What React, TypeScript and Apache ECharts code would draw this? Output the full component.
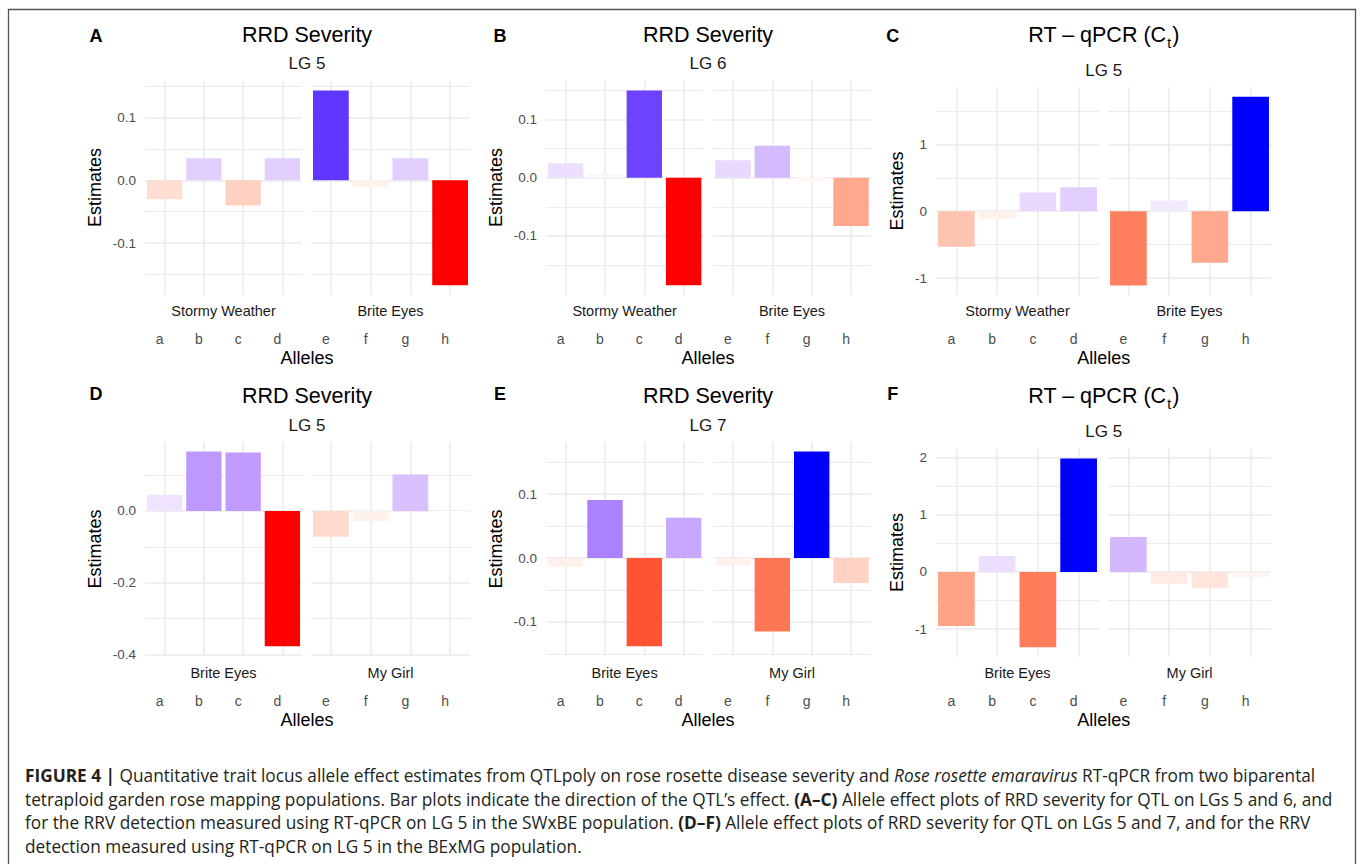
import React, { useEffect, useRef } from "react";
import * as echarts from "echarts";

// ---------- DATA ----------
const allelesLeft = ["a", "b", "c", "d"];
const allelesRight = ["e", "f", "g", "h"];

// A: RRD Severity, LG 5 (SWxBE)
const parentsA = ["Stormy Weather", "Brite Eyes"];
const estA1 = [-0.03, 0.035, -0.04, 0.035];
const estA2 = [0.143, -0.011, 0.035, -0.167];
const ticksA = [-0.1, 0, 0.1];

// B: RRD Severity, LG 6 (SWxBE)
const parentsB = ["Stormy Weather", "Brite Eyes"];
const estB1 = [0.025, 0.007, 0.15, -0.185];
const estB2 = [0.03, 0.055, -0.007, -0.083];
const ticksB = [-0.1, 0, 0.1];

// C: RT-qPCR (Ct), LG 5 (SWxBE)
const parentsC = ["Stormy Weather", "Brite Eyes"];
const estC1 = [-0.53, -0.12, 0.28, 0.36];
const estC2 = [-1.11, 0.16, -0.77, 1.71];
const ticksC = [-1, 0, 1];

// D: RRD Severity, LG 5 (BExMG)
const parentsD = ["Brite Eyes", "My Girl"];
const estD1 = [0.045, 0.166, 0.163, -0.377];
const estD2 = [-0.072, -0.028, 0.102, -0.003];
const ticksD = [-0.4, -0.2, 0];

// E: RRD Severity, LG 7 (BExMG)
const parentsE = ["Brite Eyes", "My Girl"];
const estE1 = [-0.013, 0.091, -0.138, 0.063];
const estE2 = [-0.0115, -0.115, 0.167, -0.039];
const ticksE = [-0.1, 0, 0.1];

// F: RT-qPCR (Ct), LG 5 (BExMG)
const parentsF = ["Brite Eyes", "My Girl"];
const estF1 = [-0.947, 0.28, -1.32, 1.99];
const estF2 = [0.614, -0.205, -0.275, -0.1];
const ticksF = [-1, 0, 1, 2];

const panelLetters = ["A", "B", "C", "D", "E", "F"];
const panelTitles = ["RRD Severity", "RRD Severity", "qpcr", "RRD Severity", "RRD Severity", "qpcr"];
const panelLGs = ["LG 5", "LG 6", "LG 5", "LG 5", "LG 7", "LG 5"];
const panelDecimals = [1, 1, 0, 1, 1, 0];
const yAxisTitle = "Estimates";
const xAxisTitle = "Alleles";

const captionLines = [
  "{b|FIGURE 4 | }{r|Quantitative trait locus allele effect estimates from QTLpoly on rose rosette disease severity and }{i|Rose rosette emaravirus}{r| RT-qPCR from two biparental}",
  "{r|tetraploid garden rose mapping populations. Bar plots indicate the direction of the QTL\u2019s effect. }{b|(A\u2013C)}{r| Allele effect plots of RRD severity for QTL on LGs 5 and 6, and}",
  "{r|for the RRV detection measured using RT-qPCR on LG 5 in the SWxBE population. }{b|(D\u2013F)}{r| Allele effect plots of RRD severity for QTL on LGs 5 and 7, and for the RRV}",
  "{r|detection measured using RT-qPCR on LG 5 in the BExMG population.}",
];

// ---------- LAYOUT ----------
const FONT = "'Liberation Sans', Arial, Helvetica, sans-serif";
const CAP_FONT = "'Open Sans', 'Liberation Sans', Arial, sans-serif";

const cols = [
  { f1: [145, 302], f2: [311, 470], estX: 95, center: 307, letterX: 96 },
  { f1: [546, 703.3], f2: [713.3, 870.7], estX: 496, center: 708, letterX: 500 },
  { f1: [936, 1099], f2: [1108, 1271], estX: 896.7, center: 1103.7, letterX: 892.7 },
];

const panelLayout = [
  { col: 0, top: 80.7, bottom: 295, titleY: 35, lgY: 63, letterY: 36, estY: 187.5, allelesY: 358, stripY: 311, margin: 37 },
  { col: 1, top: 80.7, bottom: 295, titleY: 35, lgY: 63, letterY: 36, estY: 187.5, allelesY: 358, stripY: 311, margin: 37 },
  { col: 2, top: 87.3, bottom: 295, titleY: 36.5, lgY: 70.7, letterY: 36, estY: 191, allelesY: 358, stripY: 311, margin: 37 },
  { col: 0, top: 441.7, bottom: 656, titleY: 396, lgY: 425, letterY: 394, estY: 549, allelesY: 720, stripY: 673, margin: 38 },
  { col: 1, top: 441.7, bottom: 656, titleY: 396, lgY: 425, letterY: 394, estY: 549, allelesY: 720, stripY: 673, margin: 38 },
  { col: 2, top: 449, bottom: 656.7, titleY: 398, lgY: 431.7, letterY: 394, estY: 552.5, allelesY: 720, stripY: 673, margin: 37.5 },
];

const panelData = [
  { parents: parentsA, e1: estA1, e2: estA2, ticks: ticksA },
  { parents: parentsB, e1: estB1, e2: estB2, ticks: ticksB },
  { parents: parentsC, e1: estC1, e2: estC2, ticks: ticksC },
  { parents: parentsD, e1: estD1, e2: estD2, ticks: ticksD },
  { parents: parentsE, e1: estE1, e2: estE2, ticks: ticksE },
  { parents: parentsF, e1: estF1, e2: estF2, ticks: ticksF },
];

// ---------- COLOUR (ggplot gradient2 in CIELAB: red - white - blue) ----------
function toLin(c: number) {
  c /= 255;
  return c <= 0.04045 ? c / 12.92 : Math.pow((c + 0.055) / 1.055, 2.4);
}
function fromLin(c: number) {
  const v = c <= 0.0031308 ? 12.92 * c : 1.055 * Math.pow(c, 1 / 2.4) - 0.055;
  return Math.round(Math.max(0, Math.min(1, v)) * 255);
}
const Xn = 0.95047, Yn = 1.0, Zn = 1.08883;
const EPS = 216 / 24389, KAP = 24389 / 27;
function rgbToLab(r: number, g: number, b: number) {
  const R = toLin(r), G = toLin(g), B = toLin(b);
  const X = 0.4124564 * R + 0.3575761 * G + 0.1804375 * B;
  const Y = 0.2126729 * R + 0.7151522 * G + 0.072175 * B;
  const Z = 0.0193339 * R + 0.119192 * G + 0.9503041 * B;
  const f = (t: number) => (t > EPS ? Math.cbrt(t) : (KAP * t + 16) / 116);
  const fx = f(X / Xn), fy = f(Y / Yn), fz = f(Z / Zn);
  return [116 * fy - 16, 500 * (fx - fy), 200 * (fy - fz)];
}
function labToHex(L: number, a: number, b: number) {
  const fy = (L + 16) / 116, fx = fy + a / 500, fz = fy - b / 200;
  const inv = (t: number) => (t * t * t > EPS ? t * t * t : (116 * t - 16) / KAP);
  const X = Xn * inv(fx), Y = Yn * inv(fy), Z = Zn * inv(fz);
  const R = 3.2404542 * X - 1.5371385 * Y - 0.4985314 * Z;
  const G = -0.969266 * X + 1.8760108 * Y + 0.041556 * Z;
  const B = 0.0556434 * X - 0.2040259 * Y + 1.0572252 * Z;
  const h = (n: number) => n.toString(16).padStart(2, "0");
  return "#" + h(fromLin(R)) + h(fromLin(G)) + h(fromLin(B));
}
const LAB_W = rgbToLab(255, 255, 255);
const LAB_R = rgbToLab(255, 0, 0);
const LAB_B = rgbToLab(0, 0, 255);
function fillFor(v: number, maxAbs: number) {
  const t = Math.min(1, Math.abs(v) / maxAbs);
  const end = v < 0 ? LAB_R : LAB_B;
  return labToHex(
    LAB_W[0] + (end[0] - LAB_W[0]) * t,
    LAB_W[1] + (end[1] - LAB_W[1]) * t,
    LAB_W[2] + (end[2] - LAB_W[2]) * t
  );
}

// ---------- OPTION ----------
function buildOption() {
  const grids: any[] = [];
  const xAxes: any[] = [];
  const yAxes: any[] = [];
  const series: any[] = [];
  const graphics: any[] = [];

  panelData.forEach((pd, pi) => {
    const lay = panelLayout[pi];
    const col = cols[lay.col];
    const all = [...pd.e1, ...pd.e2];
    const lo = Math.min(0, ...all);
    const hi = Math.max(0, ...all);
    const pad = 0.05 * (hi - lo);
    const ymin = lo - pad;
    const ymax = hi + pad;
    const maxAbs = Math.max(Math.abs(lo), Math.abs(hi));
    const majors = pd.ticks;
    const half = (majors[1] - majors[0]) / 2;
    const gridVals: { v: number; major: boolean }[] = majors.map((v) => ({ v, major: true }));
    for (let k = Math.ceil((ymin - majors[0]) / half - 1e-9); k <= Math.floor((ymax - majors[0]) / half + 1e-9); k++) {
      if (k % 2 !== 0) gridVals.push({ v: +(majors[0] + k * half).toFixed(6), major: false });
    }

    [0, 1].forEach((fi) => {
      const gi = grids.length;
      const [x0, x1] = fi === 0 ? col.f1 : col.f2;
      const cats = fi === 0 ? allelesLeft : allelesRight;
      const vals = fi === 0 ? pd.e1 : pd.e2;
      grids.push({
        left: x0,
        width: x1 - x0,
        top: lay.top,
        height: lay.bottom - lay.top,
        containLabel: false,
        outerBoundsMode: "none",
      });
      xAxes.push({
        type: "category",
        gridIndex: gi,
        data: cats,
        boundaryGap: true,
        axisLine: { show: false },
        axisTick: { show: false },
        splitLine: { show: false },
        axisLabel: {
          margin: lay.margin,
          color: "#4d4d4d",
          fontSize: 14,
          fontFamily: FONT,
          padding: [0, 10, 0, 0],
        },
      });
      yAxes.push({
        type: "value",
        gridIndex: gi,
        min: ymin,
        max: ymax,
        show: false,
      });
      const lineData: any[] = gridVals.map((g) => ({
        yAxis: g.v,
        lineStyle: { color: "#ebebeb", width: g.major ? 1.6 : 1, type: "solid" },
        label: {
          show: fi === 0 && g.major,
          position: "start",
          distance: 9,
          formatter: (Math.abs(g.v) < 1e-9 ? 0 : g.v).toFixed(panelDecimals[pi]),
          color: "#4d4d4d",
          fontSize: 13.5,
          fontFamily: FONT,
        },
      }));
      cats.forEach((c) => {
        lineData.push({
          xAxis: c,
          lineStyle: { color: "#ebebeb", width: 1.6, type: "solid" },
          label: { show: false },
        });
      });
      series.push({
        type: "line",
        xAxisIndex: gi,
        yAxisIndex: gi,
        data: [],
        z: 1,
        silent: true,
        markLine: {
          silent: true,
          symbol: "none",
          z: 1,
          animation: false,
          data: lineData,
        },
      });
      series.push({
        type: "bar",
        xAxisIndex: gi,
        yAxisIndex: gi,
        barCategoryGap: "10%",
        z: 3,
        silent: true,
        data: vals.map((v) => ({ value: v, itemStyle: { color: fillFor(v, maxAbs) } })),
      });
      graphics.push({
        type: "text",
        x: (x0 + x1) / 2,
        y: lay.stripY,
        style: { text: pd.parents[fi], fontFamily: FONT, fontSize: 14.5, fill: "#1a1a1a", align: "center", verticalAlign: "middle" },
      });
    });

    graphics.push({
      type: "text",
      x: col.letterX,
      y: lay.letterY,
      style: { text: panelLetters[pi], fontFamily: FONT, fontSize: 18, fontWeight: "bold", fill: "#000", align: "center", verticalAlign: "middle" },
    });
    if (panelTitles[pi] === "qpcr") {
      graphics.push({
        type: "text",
        x: col.center,
        y: lay.titleY,
        style: {
          text: "{m|RT \u2013 qPCR (C}{s|t}{m|)}",
          align: "center",
          verticalAlign: "middle",
          rich: {
            m: { fontFamily: FONT, fontSize: 21.5, fill: "#000", verticalAlign: "bottom", padding: [0, 0, 4, 0] },
            s: { fontFamily: FONT, fontSize: 14, fill: "#000", verticalAlign: "bottom", padding: [0, 1, 0, 1] },
          },
        },
      });
    } else {
      graphics.push({
        type: "text",
        x: col.center,
        y: lay.titleY,
        style: { text: panelTitles[pi], fontFamily: FONT, fontSize: 21.5, fill: "#000", align: "center", verticalAlign: "middle" },
      });
    }
    graphics.push({
      type: "text",
      x: col.center,
      y: lay.lgY,
      style: { text: panelLGs[pi], fontFamily: FONT, fontSize: 17, fill: "#1a1a1a", align: "center", verticalAlign: "middle" },
    });
    graphics.push({
      type: "text",
      x: col.estX,
      y: lay.estY,
      rotation: Math.PI / 2,
      style: { text: yAxisTitle, fontFamily: FONT, fontSize: 18, fill: "#000", align: "center", verticalAlign: "middle" },
    });
    graphics.push({
      type: "text",
      x: col.center,
      y: lay.allelesY,
      style: { text: xAxisTitle, fontFamily: FONT, fontSize: 18, fill: "#000", align: "center", verticalAlign: "middle" },
    });
  });

  graphics.push({
    type: "rect",
    shape: { x: 8.5, y: 9.5, width: 1347, height: 900 },
    style: { fill: "none", stroke: "#555555", lineWidth: 1.3 },
    z: 0,
  });

  const capY = [775.7, 799.2, 822.7, 846];
  const capSize = 17.25;
  const capRich = {
    r: { fontFamily: CAP_FONT, fontSize: capSize, fill: "#231f20" },
    b: { fontFamily: CAP_FONT, fontSize: capSize, fontWeight: "bold", fill: "#231f20" },
    i: { fontFamily: CAP_FONT, fontSize: capSize, fontStyle: "italic", fill: "#231f20" },
  };
  captionLines.forEach((ln, i) => {
    graphics.push({
      type: "text",
      x: 25,
      y: capY[i],
      style: { text: ln, rich: capRich, align: "left", verticalAlign: "middle" },
    });
  });

  return {
    animation: false,
    backgroundColor: "#ffffff",
    grid: grids,
    xAxis: xAxes,
    yAxis: yAxes,
    series,
    graphic: { elements: graphics },
  };
}

export default function App() {
  const ref = useRef<HTMLDivElement>(null);
  useEffect(() => {
    if (!ref.current) return;
    const chart = echarts.init(ref.current, undefined, { renderer: "svg" });
    chart.setOption(buildOption() as any);
    return () => chart.dispose();
  }, []);
  return (
    <div
      ref={ref}
      style={{ position: "fixed", left: 0, top: 0, width: 1360, height: 864, background: "#fff" }}
    />
  );
}
